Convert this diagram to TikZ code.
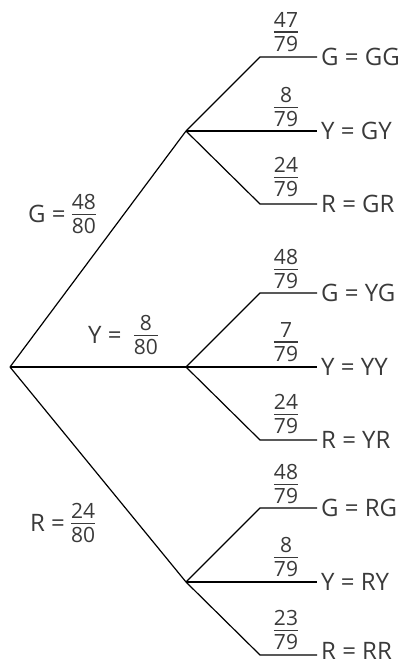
\documentclass[tikz,border=0pt]{standalone}
\usepackage{fontspec}
\setmainfont{Open Sans}
\definecolor{txt}{HTML}{3A3A3A}
\newcommand\fr[2]{\raisebox{3pt}{\fontsize{21}{21}\selectfont$\vcenter{\offinterlineskip\halign{\hfil##\hfil\cr #1\cr\noalign{\kern4pt\hrule height1.2pt\kern3.5pt}#2\cr}}$}}
\begin{document}
\begin{tikzpicture}[x=1pt,y=-1pt,
  every node/.style={text=txt, font=\fontsize{24}{28}\selectfont, inner sep=0pt},
  branch/.style={draw=black, line width=1.2pt},
  leaf/.style={anchor=west, inner xsep=4pt},
  prob/.style={anchor=center},
  elabel/.style={anchor=west}]
\useasboundingbox (0,0) rectangle (403,663);
% tree points
\coordinate (o) at (10,367);
\coordinate (g) at (186,131);
\coordinate (y) at (186,367);
\coordinate (r) at (186,582);
\coordinate (gG) at (260,57);  \coordinate (gY) at (260,131); \coordinate (gR) at (260,204);
\coordinate (yG) at (260,293); \coordinate (yY) at (260,367); \coordinate (yR) at (260,440);
\coordinate (rG) at (260,508); \coordinate (rY) at (260,582); \coordinate (rR) at (260,655);
% leaf labels
\node[leaf] (lgG) at (317,57)  {G = GG};
\node[leaf] (lgY) at (317,131) {Y = GY};
\node[leaf] (lgR) at (317,204) {R = GR};
\node[leaf] (lyG) at (317,293) {G = YG};
\node[leaf] (lyY) at (317,367) {Y = YY};
\node[leaf] (lyR) at (317,440) {R = YR};
\node[leaf] (lrG) at (317,508) {G = RG};
\node[leaf] (lrY) at (317,582) {Y = RY};
\node[leaf] (lrR) at (317,650.5) {R = RR};
% branches
\draw[branch] (o) -- (g);
\draw[branch] (o) -- (y);
\draw[branch] (o) -- (r);
\foreach \p in {g,y,r}{
  \draw[branch] (\p) -- (\p G) -- (\p G -| l\p G.west);
  \draw[branch] (\p) -- (\p Y) -- (\p Y -| l\p Y.west);
  \draw[branch] (\p) -- (\p R) -- (\p R -| l\p R.west);
}
% second-level probabilities
\node[prob] (pgG) at (286,32)  {\fr{47}{79}};
\node[prob] (pgY) at (286,107) {\fr{8}{79}};
\node[prob] (pgR) at (286,177) {\fr{24}{79}};
\node[prob] (pyG) at (286,269) {\fr{48}{79}};
\node[prob] (pyY) at (286,342) {\fr{7}{79}};
\node[prob] (pyR) at (286,414) {\fr{24}{79}};
\node[prob] (prG) at (286,484) {\fr{48}{79}};
\node[prob] (prY) at (286,557) {\fr{8}{79}};
\node[prob] (prR) at (286,630) {\fr{23}{79}};
% first-level labels
\node[elabel] (eg) at (28,214) {G = \fr{48}{80}};
\node[elabel] (ey) at (88,335) {Y = \hspace{6pt}\fr{8}{80}};
\node[elabel] (er) at (30,523) {R = \fr{24}{80}};
\end{tikzpicture}
\end{document}
